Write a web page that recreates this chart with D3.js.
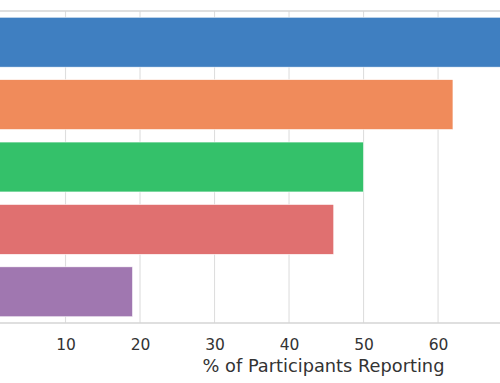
<!DOCTYPE html>
<html>
<head>
<meta charset="utf-8">
<script src="https://cdn.jsdelivr.net/npm/d3@7"></script>
<style>
  html, body { margin: 0; padding: 0; background: #fff; }
  svg { display: block; font-family: "DejaVu Sans", sans-serif; }
</style>
</head>
<body>
<svg id="chart" width="500" height="383"></svg>
<script>
// Data (category labels are cropped out of the view)
const categories = ["Category 1", "Category 2", "Category 3", "Category 4", "Category 5"];
const values = [85, 62, 50, 46, 19];
const colors = ["#3f7fc1", "#f08b5b", "#34c16a", "#e07070", "#a077b0"];
const xTicks = [0, 10, 20, 30, 40, 50, 60, 70, 80];
const xLabel = "% of Participants Reporting";

const svg = d3.select("#chart");
const W = 500, H = 383;

// Plot area (left edge extends past the visible crop)
const plotLeft = -9, plotRight = 656, plotTop = 11, plotBottom = 323;

const x = d3.scaleLinear()
  .domain([0, d3.max(values) * 1.05])
  .range([plotLeft, plotRight]);

const y = d3.scaleBand()
  .domain(categories)
  .range([plotTop, plotBottom])
  .paddingInner(0.2)
  .paddingOuter(0.1);

// Grid lines
svg.append("g")
  .selectAll("line")
  .data(xTicks)
  .join("line")
  .attr("x1", d => x(d)).attr("x2", d => x(d))
  .attr("y1", plotTop).attr("y2", plotBottom)
  .attr("stroke", "#dedede")
  .attr("stroke-width", 1.1);

// Bars
svg.append("g")
  .selectAll("rect")
  .data(values)
  .join("rect")
  .attr("x", x(0))
  .attr("y", (d, i) => y(categories[i]))
  .attr("width", d => x(d) - x(0))
  .attr("height", y.bandwidth())
  .attr("fill", (d, i) => colors[i])
  .attr("stroke", "#ffffff")
  .attr("stroke-width", 0.6);

// Spines (top and bottom)
svg.append("line")
  .attr("x1", plotLeft).attr("x2", plotRight)
  .attr("y1", plotTop).attr("y2", plotTop)
  .attr("stroke", "#d4d4d4").attr("stroke-width", 1.4);
svg.append("line")
  .attr("x1", plotLeft).attr("x2", plotRight)
  .attr("y1", plotBottom).attr("y2", plotBottom)
  .attr("stroke", "#d4d4d4").attr("stroke-width", 1.4);

// X axis tick labels
const xAxis = d3.axisBottom(x).tickValues(xTicks).tickSize(0).tickPadding(0);
const gx = svg.append("g").attr("transform", `translate(0,${plotBottom})`).call(xAxis);
gx.select(".domain").remove();
gx.selectAll("text")
  .attr("dy", null)
  .attr("y", 27)
  .attr("fill", "#333")
  .style("font-size", "15.5px")
  .style("font-family", "'DejaVu Sans', sans-serif");
gx.selectAll(".tick").filter(d => x(d) < 0 || x(d) > W).remove();

// X axis label
svg.append("text")
  .attr("x", (plotLeft + plotRight) / 2)
  .attr("y", 372)
  .attr("text-anchor", "middle")
  .attr("fill", "#333")
  .style("font-size", "17.8px")
  .text(xLabel);
</script>
</body>
</html>
